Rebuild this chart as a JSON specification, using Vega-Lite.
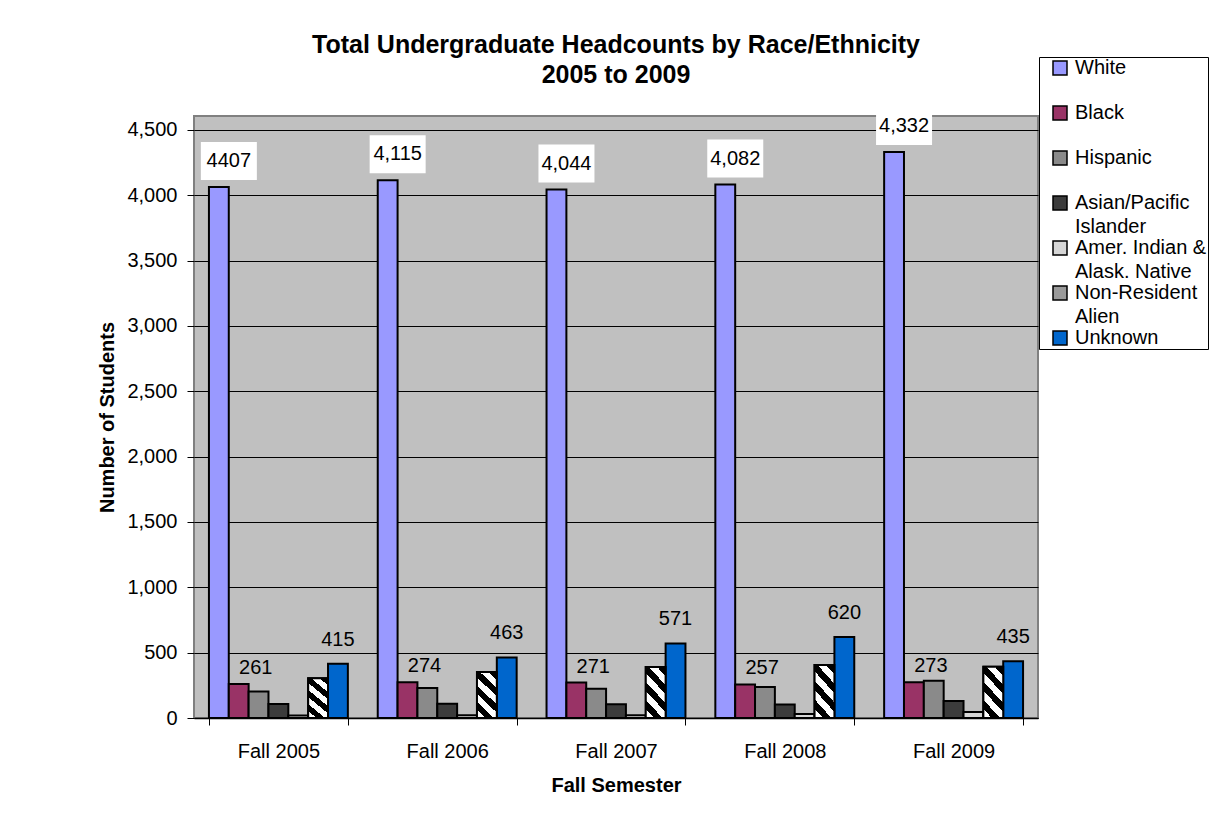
{
  "$schema": "https://vega.github.io/schema/vega-lite/v6.json",
  "width": 844,
  "height": 602,
  "autosize": {"type": "none"},
  "padding": {"left": 194, "top": 116, "right": 178, "bottom": 112},
  "background": "white",
  "config": {
    "font": "Liberation Sans",
    "view": {"fill": "#C0C0C0", "stroke": "#808080", "strokeWidth": 2}
  },
  "title": {
    "text": ["Total Undergraduate Headcounts by Race/Ethnicity", "2005 to 2009"],
    "font": "Liberation Sans",
    "fontSize": 25,
    "fontWeight": "bold",
    "lineHeight": 30,
    "anchor": "middle",
    "frame": "group",
    "offset": -31,
    "color": "black"
  },
  "data": {
    "values": [
      {"semester": "Fall 2005", "race": "White", "count": 4064, "label": "4407"},
      {"semester": "Fall 2005", "race": "Black", "count": 261, "label": "261"},
      {"semester": "Fall 2005", "race": "Hispanic", "count": 203},
      {"semester": "Fall 2005", "race": "Asian/Pacific Islander", "count": 107},
      {"semester": "Fall 2005", "race": "Amer. Indian & Alask. Native", "count": 20},
      {"semester": "Fall 2005", "race": "Non-Resident Alien", "count": 304},
      {"semester": "Fall 2005", "race": "Unknown", "count": 415, "label": "415"},
      {"semester": "Fall 2006", "race": "White", "count": 4115, "label": "4,115"},
      {"semester": "Fall 2006", "race": "Black", "count": 274, "label": "274"},
      {"semester": "Fall 2006", "race": "Hispanic", "count": 229},
      {"semester": "Fall 2006", "race": "Asian/Pacific Islander", "count": 110},
      {"semester": "Fall 2006", "race": "Amer. Indian & Alask. Native", "count": 22},
      {"semester": "Fall 2006", "race": "Non-Resident Alien", "count": 352},
      {"semester": "Fall 2006", "race": "Unknown", "count": 463, "label": "463"},
      {"semester": "Fall 2007", "race": "White", "count": 4044, "label": "4,044"},
      {"semester": "Fall 2007", "race": "Black", "count": 271, "label": "271"},
      {"semester": "Fall 2007", "race": "Hispanic", "count": 224},
      {"semester": "Fall 2007", "race": "Asian/Pacific Islander", "count": 105},
      {"semester": "Fall 2007", "race": "Amer. Indian & Alask. Native", "count": 22},
      {"semester": "Fall 2007", "race": "Non-Resident Alien", "count": 390},
      {"semester": "Fall 2007", "race": "Unknown", "count": 571, "label": "571"},
      {"semester": "Fall 2008", "race": "White", "count": 4082, "label": "4,082"},
      {"semester": "Fall 2008", "race": "Black", "count": 257, "label": "257"},
      {"semester": "Fall 2008", "race": "Hispanic", "count": 238},
      {"semester": "Fall 2008", "race": "Asian/Pacific Islander", "count": 103},
      {"semester": "Fall 2008", "race": "Amer. Indian & Alask. Native", "count": 30},
      {"semester": "Fall 2008", "race": "Non-Resident Alien", "count": 405},
      {"semester": "Fall 2008", "race": "Unknown", "count": 620, "label": "620"},
      {"semester": "Fall 2009", "race": "White", "count": 4332, "label": "4,332"},
      {"semester": "Fall 2009", "race": "Black", "count": 273, "label": "273"},
      {"semester": "Fall 2009", "race": "Hispanic", "count": 285},
      {"semester": "Fall 2009", "race": "Asian/Pacific Islander", "count": 130},
      {"semester": "Fall 2009", "race": "Amer. Indian & Alask. Native", "count": 45},
      {"semester": "Fall 2009", "race": "Non-Resident Alien", "count": 393},
      {"semester": "Fall 2009", "race": "Unknown", "count": 435, "label": "435"}
    ]
  },
  "encoding": {
    "x": {
      "field": "semester",
      "type": "nominal",
      "sort": null,
      "scale": {"paddingInner": 0.177, "paddingOuter": 0.0885},
      "axis": {
        "title": "Fall Semester",
        "labelAngle": 0,
        "labelFontSize": 20,
        "labelColor": "black",
        "labelPadding": 16,
        "domainColor": "black",
        "domainWidth": 1.5,
        "tickColor": "black",
        "tickSize": 7,
        "tickBand": "extent",
        "titleFontSize": 20,
        "titleFontWeight": "bold",
        "titleColor": "black",
        "titlePadding": 14
      }
    },
    "xOffset": {
      "field": "race",
      "type": "nominal",
      "sort": ["White", "Black", "Hispanic", "Asian/Pacific Islander", "Amer. Indian & Alask. Native", "Non-Resident Alien", "Unknown"],
      "scale": {
        "domain": ["White", "Black", "Hispanic", "Asian/Pacific Islander", "Amer. Indian & Alask. Native", "Non-Resident Alien", "Unknown"],
        "paddingInner": 0,
        "paddingOuter": 0
      }
    },
    "y": {
      "field": "count",
      "type": "quantitative",
      "scale": {"domain": [0, 4607], "nice": false, "zero": true},
      "axis": {
        "title": "Number of Students",
        "values": [0, 500, 1000, 1500, 2000, 2500, 3000, 3500, 4000, 4500],
        "format": ",.0f",
        "labelFontSize": 20,
        "labelColor": "black",
        "labelPadding": 10,
        "tickColor": "black",
        "tickSize": 7,
        "domain": false,
        "grid": true,
        "gridColor": "black",
        "gridOpacity": 1,
        "gridWidth": 1,
        "titleFontSize": 20,
        "titleFontWeight": "bold",
        "titleColor": "black",
        "titlePadding": 9
      }
    }
  },
  "layer": [
    {
      "mark": {"type": "bar", "stroke": "black", "strokeWidth": 2},
      "encoding": {
        "color": {
          "field": "race",
          "type": "nominal",
          "scale": {
            "domain": ["White", "Black", "Hispanic", "Asian/Pacific Islander", "Amer. Indian & Alask. Native", "Non-Resident Alien", "Unknown"],
            "range": ["#9999FF", "#993366", "#8A8A8A", "#3C3C3C", "#D6D6D6", "#9A9A9A", "#0066CC"]
          },
          "legend": {
            "title": null,
            "orient": "none",
            "legendX": 845,
            "legendY": -59,
            "padding": 1,
            "fillColor": "white",
            "strokeColor": "black",
            "symbolType": "square",
            "symbolSize": 196,
            "symbolStrokeColor": "black",
            "symbolStrokeWidth": 1.5,
            "symbolOffset": 10,
            "labelFontSize": 20,
            "labelColor": "black",
            "labelOffset": 5,
            "labelLimit": 220,
            "rowPadding": 25,
            "labelExpr": "datum.label == 'Asian/Pacific Islander' ? 'Asian/Pacific' : datum.label == 'Amer. Indian & Alask. Native' ? 'Amer. Indian &' : datum.label == 'Non-Resident Alien' ? 'Non-Resident' : datum.label"
          }
        }
      }
    },
    {
      "mark": {"type": "point", "opacity": 0, "filled": true},
      "encoding": {
        "shape": {
          "field": "semester",
          "type": "nominal",
          "scale": {
            "domain": ["Islander", "Alask. Native", "Alien"],
            "range": ["square", "square", "square"]
          },
          "legend": {
            "title": null,
            "values": ["Islander", "Alask. Native", "Alien"],
            "orient": "none",
            "legendX": 845,
            "legendY": 100,
            "padding": 1,
            "symbolType": "square",
            "symbolSize": 196,
            "symbolOpacity": 0,
            "symbolStrokeWidth": 0,
            "symbolOffset": 10,
            "labelFontSize": 20,
            "labelColor": "black",
            "labelOffset": 5,
            "labelLimit": 220,
            "rowPadding": 25
          }
        }
      }
    },
    {
      "transform": [{"filter": "datum.race === 'Non-Resident Alien'"}],
      "mark": {
        "type": "bar",
        "stroke": "black",
        "strokeWidth": 2,
        "fill": {
          "gradient": "linear",
          "x1": 0, "y1": 1, "x2": 0.503, "y2": -0.207,
          "stops": [
            {"offset": 0, "color": "white"}, {"offset": 0.125, "color": "white"},
            {"offset": 0.125, "color": "black"}, {"offset": 0.25, "color": "black"},
            {"offset": 0.25, "color": "white"}, {"offset": 0.375, "color": "white"},
            {"offset": 0.375, "color": "black"}, {"offset": 0.5, "color": "black"},
            {"offset": 0.5, "color": "white"}, {"offset": 0.625, "color": "white"},
            {"offset": 0.625, "color": "black"}, {"offset": 0.75, "color": "black"},
            {"offset": 0.75, "color": "white"}, {"offset": 0.875, "color": "white"},
            {"offset": 0.875, "color": "black"}, {"offset": 1, "color": "black"}
          ]
        }
      }
    },
    {
      "transform": [{"filter": "datum.race === 'White'"}],
      "mark": {
        "type": "point",
        "shape": "M-0.643,-1.607H1.357V-0.25H-0.643Z",
        "filled": true,
        "fill": "white",
        "opacity": 1,
        "size": 3136,
        "strokeWidth": 0
      }
    },
    {
      "transform": [{"filter": "datum.race === 'White'"}],
      "mark": {"type": "text", "dx": 10, "dy": -26, "fontSize": 20, "color": "black", "baseline": "middle"},
      "encoding": {"text": {"field": "label"}}
    },
    {
      "transform": [{"filter": "datum.race === 'Black'"}],
      "mark": {"type": "text", "dx": 17, "dy": -16, "fontSize": 20, "color": "black", "baseline": "middle"},
      "encoding": {"text": {"field": "label"}}
    },
    {
      "transform": [{"filter": "datum.race === 'Unknown'"}],
      "mark": {"type": "text", "dx": 0, "dy": -24, "fontSize": 20, "color": "black", "baseline": "middle"},
      "encoding": {"text": {"field": "label"}}
    }
  ]
}
